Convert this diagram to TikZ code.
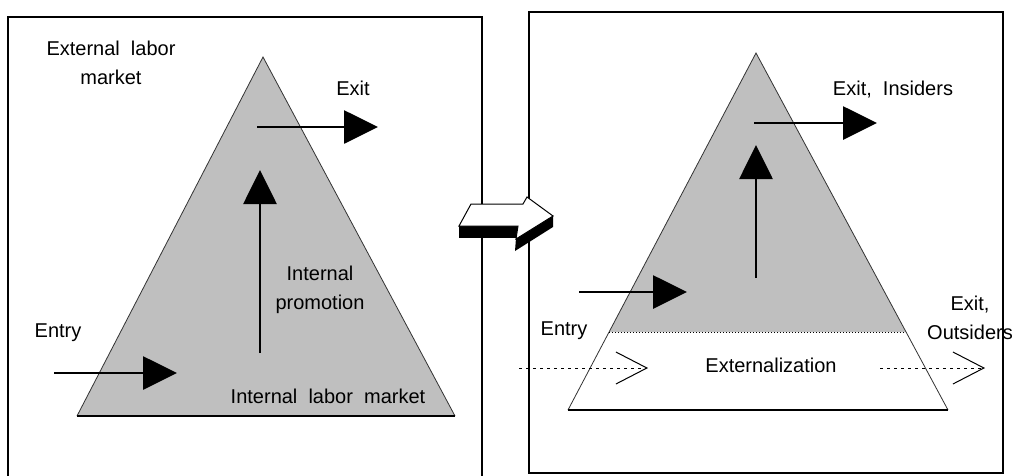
\documentclass[tikz,border=0pt]{standalone}
\usepackage{fontspec}
\setmainfont{Liberation Sans}
\usetikzlibrary{arrows.meta}
\begin{document}
\begin{tikzpicture}[x=1pt,y=-1pt,
  lbl/.style={font=\fontsize{20}{29}\selectfont, inner sep=0pt, align=center},
  frame/.style={draw=black, line width=1.5pt},
  pyr/.style={draw=black!80, line width=0.8pt},
  base/.style={draw=black, line width=1.4pt},
  bigarrow/.style={line width=2.8pt, -{Triangle[length=34pt,width=33pt]}},
  dasharrow/.style={line width=1pt, dash pattern=on 3pt off 4pt, -{Straight Barb[length=31pt,width=32pt,line width=1pt]}},
  grayfill/.style={fill=black!25}]
\useasboundingbox (0,0) rectangle (1018,475);
\fill[white] (0,0) rectangle (1018,475);

% ---------- left panel ----------
\draw[frame] (8,490) -- (8,17) -- (482,17) -- (482,490);
\coordinate (LA) at (263,57);
\coordinate (LB) at (77,416);
\coordinate (LC) at (455,416);
\fill[grayfill] (LA) -- (LB) -- (LC) -- cycle;
\draw[pyr] (LB) -- (LA) -- (LC);
\draw[base] (LB) -- (LC);

\node[lbl] (ext) at (111,63) {External\ \ labor\\market};
\node[lbl] (exit) at (353,88) {Exit};
\node[lbl] (prom) at (320,290) {Internal\\promotion};
\node[lbl] (entry) at (58,333) {Entry};
\node[lbl] (ilm) at (328,396) {Internal\ \ labor\ \ market};

\coordinate (le1) at (54,373);  \coordinate (le2) at (177,373);
\coordinate (lu1) at (260,353); \coordinate (lu2) at (260,170);
\coordinate (lx1) at (257,127); \coordinate (lx2) at (378,127);
\draw[bigarrow] (le1) -- (le2);
\draw[bigarrow] (lu1) -- (lu2);
\draw[bigarrow] (lx1) -- (lx2);

% ---------- right panel ----------
\draw[frame] (529,12) rectangle (1003,473);
\coordinate (RA) at (756,53);
\coordinate (RB) at (568,410);
\coordinate (RC) at (948,410);
\coordinate (RL) at (609,332);
\coordinate (RR) at (906,332);
\fill[grayfill] (RA) -- (RL) -- (RR) -- cycle;
\draw[pyr] (RB) -- (RA) -- (RC);
\draw[base] (RB) -- (RC);
\draw[line width=1pt, dotted] (RL) -- (RR);

\node[lbl] (exitin) at (893,90) {Exit,\ \ Insiders};
\node[lbl] (rentry) at (564,331) {Entry};
\node[lbl] (exito) at (970,318) {Exit,\\Outsiders};
\node[lbl] (extz) at (771,365) {Externalization};

\coordinate (re1) at (579,292); \coordinate (re2) at (687,292);
\coordinate (ru1) at (756,278); \coordinate (ru2) at (756,145);
\coordinate (rx1) at (754,123); \coordinate (rx2) at (877,123);
\draw[bigarrow] (re1) -- (re2);
\draw[bigarrow] (ru1) -- (ru2);
\draw[bigarrow] (rx1) -- (rx2);

\coordinate (d1) at (519,368); \coordinate (d2) at (648,368);
\coordinate (d3) at (880,368); \coordinate (d4) at (985,368);
\draw[dasharrow] (d1) -- (d2);
\draw[dasharrow] (d3) -- (d4);

% ---------- 3D block arrow between panels ----------
\fill[black] (459,226) -- (518,226) -- (518,238) -- (459,238) -- cycle;
\fill[black] (516,238) -- (553,215) -- (553,227) -- (515,251) -- cycle;
\filldraw[fill=white, draw=black, line width=1pt]
  (459,226) -- (471,204) -- (523,204) -- (527,197) -- (553,216) -- (516,239) -- (518,226) -- cycle;
\end{tikzpicture}
\end{document}
